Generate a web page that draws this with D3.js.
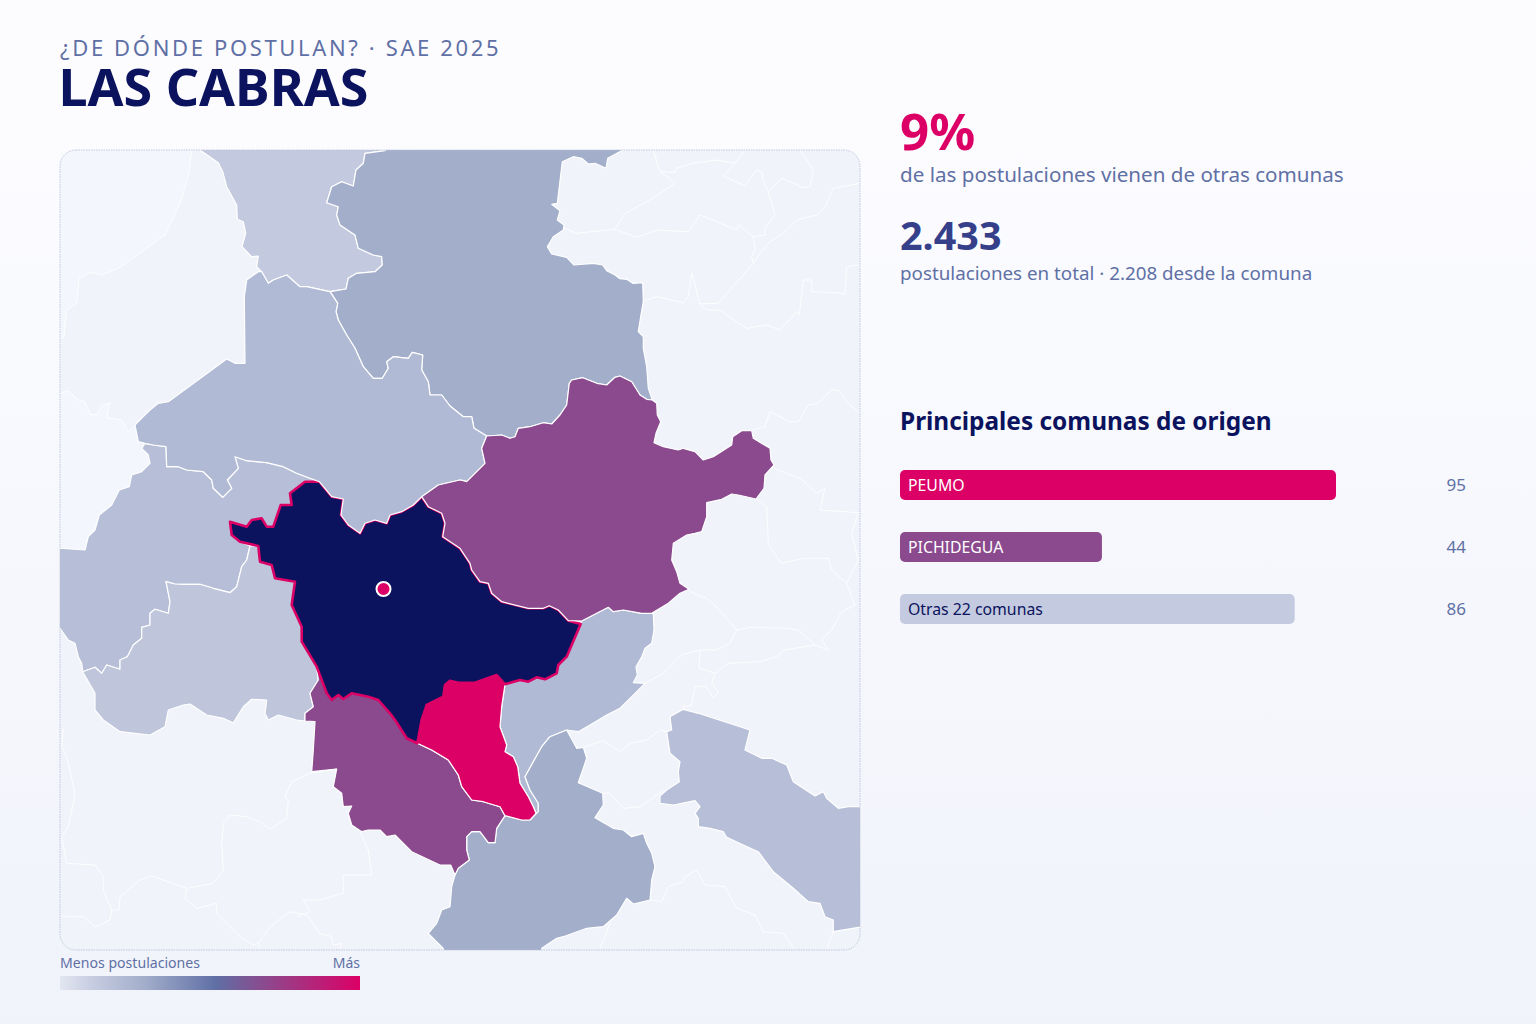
<!DOCTYPE html>
<html lang="es"><head><meta charset="utf-8"><title>Las Cabras</title>
<script src="https://cdn.jsdelivr.net/npm/d3@7"></script>
<style>html,body{margin:0;padding:0;background:#f0f3fa}svg{display:block}text{font-family:"Noto Sans","Open Sans",sans-serif}</style>
</head><body><div id="c"></div><script>
// ---- values ----
const titleText="LAS CABRAS", kickerText="¿DE DÓNDE POSTULAN? · SAE 2025";
const shareText="9%", shareNote="de las postulaciones vienen de otras comunas";
const totalText="2.433", totalNote="postulaciones en total · 2.208 desde la comuna";
const barHeading="Principales comunas de origen";
const barCategories=["PEUMO","PICHIDEGUA","Otras 22 comunas"];
const barValues=[95,44,86];
const barLevels=["high","mid","low"];
const legendLabels=["Menos postulaciones","Más"];
// ---- comuna outlines, in map units ----
const north=[200,148,200,150,218.3,162.7,222.7,171.7,226.7,186.7,236.7,205,237.3,219.3,243.3,221.7,245.7,233.3,242,246.7,251.7,256.7,258.3,256,256.7,266.7,261.7,271.7,268.3,283.3,273.3,280,286.7,275,300,286.7,306.7,286.7,330,291.7,346,289,348.3,278.3,356.7,273.3,375,271.7,382.3,265,381.7,256.7,373.3,255,358.3,248.3,355,235,340,225,336.7,215,338.3,206.7,326.7,202.7,331.7,186.7,341.7,181.7,353.3,186,356,170,363.3,163.3,365,153.3,385,150.7,385,148];
const northCentral=[385,148,385,150.7,365,153.3,363.3,163.3,356,170,353.3,186,341.7,181.7,331.7,186.7,326.7,202.7,338.3,206.7,336.7,215,340,225,355,235,358.3,248.3,373.3,255,381.7,256.7,382.3,265,375,271.7,356.7,273.3,348.3,278.3,346,289,330,291.7,337.7,303.3,336,311.7,338.3,320,346.7,335,355,348.3,363.3,366.7,373.3,378.3,382.3,378.3,388.3,368.3,386.7,361.7,393.3,356.7,408.3,358.3,412.3,352.3,422.7,355,421.7,370,428.3,381.7,430,395,441.7,395,450,406,463.3,416.7,471.7,416.7,474,428.3,486.7,436,501.7,435,510,438.3,515,436.7,518.3,428.3,530,426.7,543.3,422.7,551.7,424,560,415,566.7,405,569.3,383.3,571.7,380,582.7,377.7,596.7,383.3,606.7,385,615,377.3,620,376,631.7,381.7,640,395,646.7,399.3,652.3,400,648.3,388.3,646.7,366.7,643.3,348.3,643.3,336.7,638.3,331.7,640.7,316.7,643.3,301.7,642.7,282.7,632.7,283.3,626.7,279.3,620,278.7,615,275,606.7,270.7,602.7,265,593.3,263.3,574,265,566.7,257.3,551.7,254,547.3,246.7,553.3,236.7,563.3,230,564,225,557.3,220,560,210.7,551.7,204.3,557.3,203.3,562.3,161.7,573.3,156.7,581.7,158.3,588.3,164,595,163.3,606,168.3,607.7,158.3,623,150,625,148];
const westCentral=[258.3,271.7,246.7,280,244.3,296.7,245,363.3,235,363.3,226.7,359,168.3,401.7,158.3,403.3,150,410,143.3,416.7,135,425,138.3,441.7,145,443.3,153.3,445,166,446.7,166.7,466.7,178.3,466.7,186.7,470,203.3,471.7,211.7,480,213.3,488.3,222.7,497.3,231.7,488.3,227.3,480,238.3,468.3,235,456.7,246.7,460.7,266.7,462.7,283.3,466.7,296.7,473.3,319.3,481.7,331.7,496.7,343.3,499,341,515,348.3,525,360,533.3,365,523.3,375,520,386.7,523.3,390,515,401.7,511.7,413.3,505,421.7,496.7,438.3,485,460,480,463.3,480.7,466.7,481.7,475,473.3,485,463.3,481.7,448.3,486.7,436,474,428.3,471.7,416.7,463.3,416.7,450,406,441.7,395,430,395,428.3,381.7,421.7,370,422.7,355,412.3,352.3,408.3,358.3,393.3,356.7,386.7,361.7,388.3,368.3,382.3,378.3,373.3,378.3,363.3,366.7,355,348.3,346.7,335,338.3,320,336,311.7,337.7,303.3,330,291.7,306.7,286.7,300,286.7,286.7,275,273.3,280,268.3,283.3,261.7,271.7];
const west=[58,548,85,550,88.3,536.7,95,530,99.3,515,111.7,505,119.3,490,129.3,486.7,131.7,475,141.7,471.7,150,463.3,148.3,455,141.7,448.3,145,443.3,153.3,445,166,446.7,166.7,466.7,178.3,466.7,186.7,470,203.3,471.7,211.7,480,213.3,488.3,222.7,497.3,231.7,488.3,227.3,480,238.3,468.3,235,456.7,246.7,460.7,266.7,462.7,283.3,466.7,296.7,473.3,319.3,481.7,305,481.7,290,493.3,291.7,505,280.7,505,273.3,526.7,266.7,526.7,261.7,518.3,251.7,520,246.7,526.7,230,521.7,231.7,535,240,541.7,250,546,246.7,560,241.7,566.7,236.7,586.7,230,592.7,213.3,588.3,200,584.3,183.3,584.3,175,584,166,581.7,170,601.7,168.3,613.3,155,609.3,150,613.3,150,625,141.7,627.3,141.7,638.3,133.3,645,127.3,656.7,120,660,120,669.3,106.7,665,101.7,673.3,95,667.3,82.7,671.7,81.7,663.3,78.3,656.7,75,643.3,68.3,640,60,628.3,58,628.3];
const southWest=[250,546,258.3,546,260,561.7,271.7,565,275,578.3,295,581.7,291.7,605,301.7,626.7,301.7,641.7,316.7,666.7,318.3,680,310,693.3,313.3,706.7,305,713.3,305,721,296.7,720,278.3,715,268.3,720,265,713.3,266.7,700,251.7,699.3,243.3,706.7,233.3,722.7,223.3,718.3,206.7,715,190,704,183.3,705,168.3,710,165,726.7,150,735,120,731.7,103.3,720,95,710,95,693.3,82.7,671.7,95,667.3,101.7,673.3,106.7,665,120,669.3,120,660,127.3,656.7,133.3,645,141.7,638.3,141.7,627.3,150,625,150,613.3,155,609.3,168.3,613.3,170,601.7,166,581.7,175,584,183.3,584.3,200,584.3,213.3,588.3,230,592.7,236.7,586.7,241.7,566.7,246.7,560];
const cabras=[319.3,481.7,331.7,496.7,343.3,499,341,515,348.3,525,360,533.3,365,523.3,375,520,386.7,523.3,390,515,401.7,511.7,413.3,505,421.7,496.7,428.3,506.7,441.7,513.3,445,523.3,442.7,536.7,460,548.3,470,563.3,471.7,570,480,581.7,488.3,583.3,491.7,593.3,501.7,601.7,528.3,608.3,543.3,608.3,549.3,605.7,558.3,610,568.3,620.7,580.7,624,571.7,645,566.7,656.7,558.3,665,556.7,673.3,545,679.3,536.7,677.3,528.3,681.7,520,680,505,684.3,496.7,675,475,682.7,458.3,682.7,450,680.7,445,685,443.3,696.7,426.7,705,421.7,720,417.3,743.3,406.7,738.3,395,720,390,713.3,378.3,700,368.3,696.7,351.7,693.3,343.3,699,338.3,695,331.7,700,326.7,693.3,316.7,666.7,301.7,641.7,301.7,626.7,291.7,605,295,581.7,275,578.3,271.7,565,260,561.7,258.3,546,240,541.7,231.7,535,230,521.7,246.7,526.7,251.7,520,261.7,518.3,266.7,526.7,273.3,526.7,280.7,505,291.7,505,290,493.3,305,481.7];
const pichidegua=[421.7,496.7,438.3,485,460,480,463.3,480.7,466.7,481.7,475,473.3,485,463.3,481.7,448.3,486.7,436,501.7,435,510,438.3,515,436.7,518.3,428.3,530,426.7,543.3,422.7,551.7,424,560,415,566.7,405,569.3,383.3,571.7,380,582.7,377.7,596.7,383.3,606.7,385,615,377.3,620,376,631.7,381.7,640,395,646.7,399.3,652.3,400,656.7,403.3,657.3,415,660.7,421.7,656,433.3,654,442.7,663.3,446.7,678.3,450,683.3,448.3,695,451.7,703.3,460,713.3,456.7,731.7,445,732.7,436.7,741.7,430.7,751.7,430.7,753.3,438.3,770,448.3,771,460,774,465,765,475,764,488.3,756,499,738.3,495,731.7,494,721.7,499.3,706.7,502.7,706.7,516.7,701.7,531.7,695,533.3,686.7,535,673.3,543.3,672.7,550,671.7,560,676.7,571.7,680,583.3,689,589.3,680,593.3,668.3,603.3,651.7,613.3,641.7,613.3,623.3,610,613.3,611.7,608.3,607.3,593.3,615,581.7,621,568.3,620.7,558.3,610,549.3,605.7,543.3,608.3,528.3,608.3,501.7,601.7,491.7,593.3,488.3,583.3,480,581.7,471.7,570,470,563.3,460,548.3,442.7,536.7,445,523.3,441.7,513.3,428.3,506.7];
const southEastNear=[581.7,621,593.3,615,608.3,607.3,613.3,611.7,623.3,610,641.7,613.3,653.3,613.3,654,630,651.7,643.3,645,648.3,641.7,656.7,636,666.7,637.3,675,633.3,682.7,645,683.3,631.7,696.7,620,708.3,606.7,715,590,725,578.3,731.7,566.7,730,550,736.7,541.7,746.7,525,776.7,530,790,538.3,803.3,538.3,811.7,536,813.3,533.3,806.7,528.3,796.7,520,783.3,517.7,766.7,513.3,756.7,505,751.7,506.7,745,500,726.7,501.7,706.7,505,684.3,520,680,528.3,681.7,536.7,677.3,545,679.3,556.7,673.3,558.3,665,566.7,656.7,571.7,645,580.7,624];
const peumo=[505,684.3,496.7,675,475,682.7,458.3,682.7,450,680.7,445,685,443.3,696.7,426.7,705,421.7,720,417.3,743.3,431.7,750,448.3,760,458.3,775,461.7,786.7,471.7,800,483.3,801.7,500,806.7,505,815.7,521.7,820,530,820,536,813.3,533.3,806.7,528.3,796.7,520,783.3,517.7,766.7,513.3,756.7,505,751.7,506.7,745,500,726.7,501.7,706.7];
const southPurple=[318.3,680,316.7,666.7,326.7,693.3,331.7,700,338.3,695,343.3,699,351.7,693.3,368.3,696.7,378.3,700,390,713.3,395,720,406.7,738.3,417.3,743.3,431.7,750,448.3,760,458.3,775,461.7,786.7,471.7,800,483.3,801.7,500,806.7,505,815.7,496.7,828.3,495,842.7,488.3,842.7,480,831.7,471.7,831.7,466.7,836.7,466.7,850,469.3,860,458.3,868.3,455,875,450.7,865,440,865,411.7,851.7,395,835,386.7,836.7,380,830,368.3,830,361.7,831.7,351.7,825,348.3,813.3,351.7,806,343.3,806.7,341.7,793.3,333.3,786.7,336.7,769,311.7,771.7,313.3,750,315,721.7,305,721,305,713.3,313.3,706.7,310,693.3];
const southBig=[541.7,952,541.7,948.3,556.7,938.3,563.3,936.7,586.7,928.3,603.3,926.7,616.7,915,626.7,898.3,633.3,904,650,900,651.7,880,655,866.7,651.7,853.3,646.7,843.3,643.3,833.3,631.7,836.7,623.3,830,613.3,828.3,595,817.7,603.3,805,602.7,793.3,578.3,782.7,583.3,768.3,586.7,758.3,583.3,747.3,576.7,748.3,566.7,730,550,736.7,541.7,746.7,525,776.7,530,790,538.3,803.3,538.3,811.7,530,820,521.7,820,505,815.7,496.7,828.3,495,842.7,488.3,842.7,480,831.7,471.7,831.7,466.7,836.7,466.7,850,469.3,860,458.3,868.3,455,875,451.7,886.7,450,906.7,441.7,910,436.7,923.3,428.3,933.3,443.3,948.3,443.3,952];
const eastBand=[683.3,709.3,670,716.7,671.7,730,666.7,731.7,670,753.3,680,761.7,678.3,771.7,679.3,781.7,666.7,790,660,796,660,803.3,673.3,805,695,800.7,700,806.7,695,813.3,698.3,818.3,698.3,826.7,710,828.3,723.3,831.7,726.7,837.3,743.3,845,758.3,851.7,773.3,871.7,793.3,888.3,808.3,901.7,820,903.3,825,916.7,833.3,920,833.3,931.7,862,926.7,862,806.7,848.3,806.7,838.3,808.3,826.7,798.3,823.3,791.7,815,796,793.3,781.7,786.7,765,771.7,758.3,761.7,758.3,745,750,750,730,698.3,713.3];
// ---- pale outside areas and the other comunas' borders, in map units ----
const seaNorth=[58,148,191.7,148,191.7,150,188.3,176.7,180,203.3,165,235,140,253.3,118.3,268.3,101.7,275,91.7,272.3,79.3,278.3,76.7,303.3,66.7,310,64,336.7,58,340];
const seaWest=[58,393.3,68.3,390.7,78.3,400,85,401.7,90,414,96.7,415,101.7,406,110,402.7,106.7,417.3,121.7,420,128.3,431.7,135,425,138.3,441.7,141.7,448.3,148.3,455,150,463.3,141.7,471.7,131.7,475,129.3,486.7,119.3,490,111.7,505,99.3,515,95,530,88.3,536.7,85,550,58,548];
const otherBorders=[
[191.7,150,188.3,176.7,180,203.3,165,235,140,253.3,118.3,268.3,101.7,275,91.7,272.3,79.3,278.3,76.7,303.3,66.7,310,64,336.7,60,340],
[60,393.3,68.3,390.7,78.3,400,85,401.7,90,414,96.7,415,101.7,406,110,402.7,106.7,417.3,121.7,420,128.3,431.7,135,425],
[653.3,150,660,171.7,675,183.3,650,200,625,213.3,615,229.3],
[564,228,576.7,233.3,615,229.3,636.7,237.3,656.7,230,688.3,231.7,700,215,736.7,230,738.3,225,753.3,236.7,755,250,751.7,256.7,753.3,263.3,718.3,303.3,700,304,691.7,273.3,688.3,296.7,683.3,302.7,656.7,296.7,642.7,301.7],
[735,163.3,716.7,160,691.7,163.3,676.7,168.3,675,172.3,660,171.7],
[745,150,735,163.3,723.3,176,745,185.7,756.7,170,761.7,171.7,763.3,181.7,768.3,191.7,775,215,765,228.3,765,235,753.3,236.7],
[800,150,813.3,170,810,186.7,803.3,187.7,781.7,178.3,768.3,191.7],
[860,183.3,833.3,188.3,825,206.7,816.7,215,796.7,220,783.3,233.3,770,241.7,760,253.3,753.3,263.3],
[700,304,706.7,310,720,310,736.7,321.7,746.7,328.3,766.7,325,780,330,796.7,311.7,799.3,315,803.3,280,811.7,280,811.7,291.7,836.7,292.7,845,294.3,846.7,266.7,860,265],
[751.7,430,765,426.7,770,411.7,790,421.7,798.3,421.7,808.3,405,818.3,403.3,831.7,390,838.3,390,848.3,403.3,860,413.3],
[774,468.3,800,478.3,816.7,493.3,825,488.3,820,510,858.3,512.7,851.7,533.3,858.3,560,846.7,583.3],
[756.7,499,766.7,506.7,768.3,543.3,771.7,550,781.7,563.3,803.3,558.3,828.3,558.3,831.7,570,846.7,583.3],
[846.7,583.3,855,605,841.7,611.7,831.7,630,821.7,640,828.3,650,815,645,798.3,630,788.3,628.3,750,627.3,736.7,630,716.7,606.7,706.7,598.3,690,591.7],
[736.7,630,730,643.3,716.7,650,700,650,681.7,655,663.3,673.3,645,683.3],
[700,650,699.3,668.3,715,673.3,711.7,683.3,718.3,692.7,713.3,698.3,706.7,686.7,695,686,691.7,705,683.3,706.7,683.3,709.3],
[715,673.3,728.3,663.3,760,661.7,776.7,656.7,785,650,815,645],
[583.3,747.3,603.3,740.7,620,751.7,630,743.3,646.7,740,660,730,666.7,731.7],
[602.7,793.3,610,793.3,623.3,808.3,640,806.7,663.3,790],
[696.7,870,685,876.7,683.3,881.7,668.3,886.7,661.7,901.7,650,900],
[696.7,870,705,885,725,886.7,736.7,908.3,755,915,763.3,931.7,783.3,933.3,793.3,948.3],
[833.3,931.7,826.7,948.3],
[610,923.3,605,936.7,600,948.3],
[63.3,728.3,61.7,746.7,66.7,756.7,70,770,75,795,68.3,826.7,61.7,836.7,66.7,863.3,95,865,103.3,876.7,103.3,890,111.7,910,110,920,103.3,923.3,95,926.7,83.3,916.7,60,916],
[111.7,910,119,910,120,896.7,140,880,151.7,876,186.7,888.3,213.3,883.3,223.3,870,221.7,843.3,223.3,823.3,230,815,246.7,816.7,260,821.7,270,829.3,286.7,818.3,288.3,800,285,796.7,291.7,781.7,310,773.3,336.7,769],
[186.7,888.3,185,898.3,196.7,908.3,216.7,903.3,216.7,913.3,240,936.7,253.3,945,258.3,943.3,260,948.3],
[258.3,943.3,270,926.7,290,911.7,306.7,915,320,933.3,331.7,936.7,333.3,945,341.7,943.3,340,948.3],
[296.7,916.7,310,911.7,303.3,900,320,900,343.3,893.3,343.3,875,371.7,875,368.3,850,360,831.7]
];
const centre=[383.5,589];
const C={bgTop:"#fcfcff",bgBot:"#f0f3fa",land:"#f0f3fa",sea:"#f3f6fc",navy:"#0b135e",pink:"#dc0066",purple:"#8b4a8e",blue:"#353f8a",muted:"#6070a5",frame:"#b4bcd4"};
const comunas=[
 {pts:seaNorth,fill:C.sea,sw:0},{pts:seaWest,fill:C.sea,sw:0},
 {pts:north,fill:"#c3c9de"},{pts:northCentral,fill:"#a3aecb"},{pts:west,fill:"#b7bfd8"},{pts:southWest,fill:"#bfc6dc"},
 {pts:southEastNear,fill:"#b0bad5"},{pts:southBig,fill:"#a3aecb"},{pts:eastBand,fill:"#b7bfd8"},
 {pts:southPurple,fill:C.purple},{pts:peumo,fill:C.pink},
 {pts:cabras,fill:C.navy,stroke:C.pink,sw:2.6},
 {pts:westCentral,fill:"#b0bad5"},{pts:pichidegua,fill:C.purple}
];
const pairs=a=>d3.range(0,a.length,2).map(i=>[a[i],a[i+1]]);
const svg=d3.select("#c").append("svg").attr("width",1536).attr("height",1024);
const defs=svg.append("defs");
const bg=defs.append("linearGradient").attr("id","bg").attr("x1",0).attr("x2",0).attr("y1",0).attr("y2",1);
bg.append("stop").attr("offset",0).attr("stop-color",C.bgTop);
bg.append("stop").attr("offset",.12).attr("stop-color",C.bgTop);
bg.append("stop").attr("offset",1).attr("stop-color",C.bgBot);
const leg=defs.append("linearGradient").attr("id","leg");
[[0,"#e2e6f1"],[.12,"#c4cadf"],[.28,"#a3aecb"],[.52,"#5f6fa5"],[.68,C.purple],[1,C.pink]].forEach(s=>leg.append("stop").attr("offset",s[0]).attr("stop-color",s[1]));
svg.append("rect").attr("width",1536).attr("height",1024).attr("fill","url(#bg)");
const mapX=d3.scaleLinear().domain([60,860]).range([60,860]);
const mapY=d3.scaleLinear().domain([150,950]).range([150,950]);
const line=d3.line().x(d=>mapX(d[0])).y(d=>mapY(d[1]));
defs.append("clipPath").attr("id","mc").append("rect").attr("x",mapX(60)).attr("y",mapY(150)).attr("width",800).attr("height",800).attr("rx",16);
svg.append("rect").attr("x",mapX(60)).attr("y",mapY(150)).attr("width",800).attr("height",800).attr("rx",16).attr("fill",C.land);
const g=svg.append("g").attr("clip-path","url(#mc)");
g.selectAll(".c").data(comunas).join("path").attr("d",d=>line(pairs(d.pts))+"Z").attr("fill",d=>d.fill).attr("stroke",d=>d.stroke||"#fff").attr("stroke-width",d=>d.sw===undefined?1.2:d.sw).attr("stroke-linejoin","round");
g.selectAll(".b").data(otherBorders).join("path").attr("d",d=>line(pairs(d))).attr("fill","none").attr("stroke","#fff").attr("stroke-opacity",.85).attr("stroke-width",1).attr("stroke-linejoin","round");
g.append("circle").attr("cx",mapX(centre[0])).attr("cy",mapY(centre[1])).attr("r",7).attr("fill",C.pink).attr("stroke","#fff").attr("stroke-width",2);
svg.append("rect").attr("x",mapX(60)).attr("y",mapY(150)).attr("width",800).attr("height",800).attr("rx",16).attr("fill","none").attr("stroke",C.frame).attr("stroke-width",.8).attr("stroke-dasharray","1.5 1");
const T=(x,y,s,size,fill,w,extra)=>{const t=svg.append("text").attr("x",x).attr("y",y).text(s).attr("font-size",size).attr("fill",fill).attr("font-weight",w||400);if(extra)extra(t);return t;};
T(60,56,kickerText,22,C.muted,400,t=>t.attr("letter-spacing",2.64));
T(58.5,106,titleText,52,C.navy,700);
T(900,150,shareText,51,C.pink,700);
T(900,182,shareNote,20.6,C.muted);
T(900,250,totalText,39.5,C.blue,700);
T(900,280,totalNote,18.8,C.muted);
T(900,430,barHeading,24.4,C.navy,700);
T(60,968,legendLabels[0],14.1,C.muted);
T(360,968,legendLabels[1],14,C.muted,400,t=>t.attr("text-anchor","end"));
svg.append("rect").attr("x",60).attr("y",976).attr("width",300).attr("height",14).attr("fill","url(#leg)");
const barX=d3.scaleLinear().domain([0,95]).range([0,436]);
const barY=d3.scaleBand().domain(barCategories).range([470,624]).paddingInner(32/62).paddingOuter(0);
const barFill={high:C.pink,mid:C.purple,low:"#c4cadf"}, barText={high:"#fff",mid:"#fff",low:C.navy};
const rows=svg.selectAll(".r").data(barCategories.map((c,i)=>({c,v:barValues[i],l:barLevels[i]}))).join("g");
rows.append("rect").attr("x",900).attr("y",d=>barY(d.c)).attr("width",d=>barX(d.v)).attr("height",30).attr("rx",5).attr("fill",d=>barFill[d.l]);
rows.append("text").attr("x",908).attr("y",d=>barY(d.c)+21).attr("font-size",15.8).attr("fill",d=>barText[d.l]).text(d=>d.c);
rows.append("text").attr("x",1466).attr("y",d=>barY(d.c)+21).attr("font-size",17).attr("text-anchor","end").attr("fill",C.muted).text(d=>d.v);
</script></body></html>
